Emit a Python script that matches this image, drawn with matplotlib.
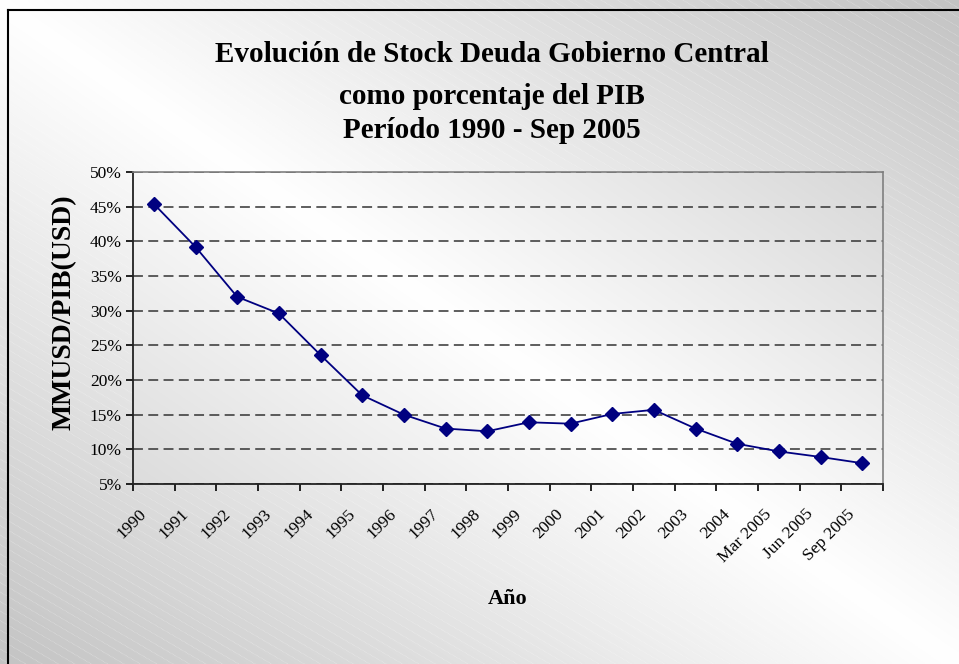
import numpy as np
import matplotlib.pyplot as plt

plt.rcParams['font.family'] = ['Liberation Serif', 'DejaVu Serif']

# datos
periodos = ["1990", "1991", "1992", "1993", "1994", "1995", "1996", "1997",
            "1998", "1999", "2000", "2001", "2002", "2003", "2004",
            "Mar 2005", "Jun 2005", "Sep 2005"]
deuda_pib = [45.4, 39.2, 32.0, 29.6, 23.6, 17.8, 15.0, 13.0,
             12.6, 13.9, 13.7, 15.1, 15.7, 13.0, 10.8,
             9.7, 8.9, 8.0]
y_ticks = [5, 10, 15, 20, 25, 30, 35, 40, 45, 50]

W, H = 959, 664
fig = plt.figure(figsize=(W / 100, H / 100), dpi=100)

# fondo degradado (estilo Excel)
bg = fig.add_axes([0, 0, 1, 1], zorder=-1)
bg.set_xlim(0, W)
bg.set_ylim(H, 0)
bg.axis("off")


def degradado(x0, x1, y0, y1):
    xs = np.linspace(x0, x1, 300)
    ys = np.linspace(y0, y1, 300)
    X, Y = np.meshgrid(xs, ys)
    u = (X - 8) / (W - 8)
    v = (Y - 10) / (H - 10)
    d = np.abs(u - v)
    g = 1 - 0.23 * d
    return np.dstack([g, g, g])


bg.imshow(degradado(0, W, 0, H), extent=[0, W, H, 0], aspect="auto", zorder=0)

# rayado diagonal
for c in np.arange(-700, H + 10, 9.5):
    xs = np.array([0, W])
    bg.plot(xs, 0.58 * xs + c, color="white", lw=0.5, ls=(0, (1, 1)), alpha=0.45, zorder=1)

# area de trazado (rayado mas suave)
px0, px1, py0, py1 = 133, 883, 172, 484
bg.imshow(degradado(px0, px1, py0, py1), extent=[px0, px1, py1, py0], aspect="auto",
          zorder=2, alpha=0.85)

# borde
bg.plot([8, 8], [10, H], color="black", lw=1.5, zorder=3)
bg.plot([8, W], [10, 10], color="black", lw=1.5, zorder=3)

ax = fig.add_axes([px0 / W, 1 - py1 / H, (px1 - px0) / W, (py1 - py0) / H])
ax.set_facecolor("none")

x = np.arange(len(periodos))
ax.plot(x, deuda_pib, color="#000080", lw=1.3, marker="D", markersize=7,
        markerfacecolor="#000080", markeredgecolor="#000080", zorder=3)

ax.set_xlim(-0.5, len(periodos) - 0.5)
ax.set_ylim(5, 50)
ax.set_yticks(y_ticks)
ax.set_yticklabels([f"{t}%" for t in y_ticks], fontsize=12.5)
ax.yaxis.grid(True, color="#333333", ls=(0, (6.5, 3.5)), lw=1.1)
ax.set_axisbelow(True)

ax.set_xticks(np.arange(-0.5, len(periodos)), minor=False)
ax.set_xticklabels([])
# etiquetas un poco a la izquierda del centro, como en Excel
ax.set_xticks(x - 0.36, minor=True)
ax.set_xticklabels(periodos, minor=True, rotation=45, ha="right", va="top",
                   rotation_mode="anchor", fontsize=12.5)
ax.tick_params(axis="x", which="minor", length=0, pad=16)
ax.tick_params(axis="x", which="major", length=5, direction="out", width=1.2)
ax.tick_params(axis="y", length=5, direction="out", width=1.2, pad=3)

for s in ["top", "right"]:
    ax.spines[s].set_color("#808080")
    ax.spines[s].set_linewidth(1.2)
for s in ["left", "bottom"]:
    ax.spines[s].set_color("#222222")
    ax.spines[s].set_linewidth(1.3)

fig.text(64 / W, 1 - 312 / H, "MMUSD/PIB(USD)", rotation=90, ha="center", va="center",
         fontsize=20, fontweight="bold")
fig.text(508 / W, 1 - 604 / H, "Año", ha="center", va="baseline",
         fontsize=16, fontweight="bold")

fig.text(492 / W, 1 - 62 / H, "Evolución de Stock Deuda Gobierno Central",
         ha="center", va="baseline", fontsize=21, fontweight="bold")
fig.text(492 / W, 1 - 104 / H, "como porcentaje del PIB",
         ha="center", va="baseline", fontsize=21, fontweight="bold")
fig.text(492 / W, 1 - 138 / H, "Período 1990 - Sep 2005",
         ha="center", va="baseline", fontsize=21, fontweight="bold")

fig.savefig("out.png", dpi=100)
